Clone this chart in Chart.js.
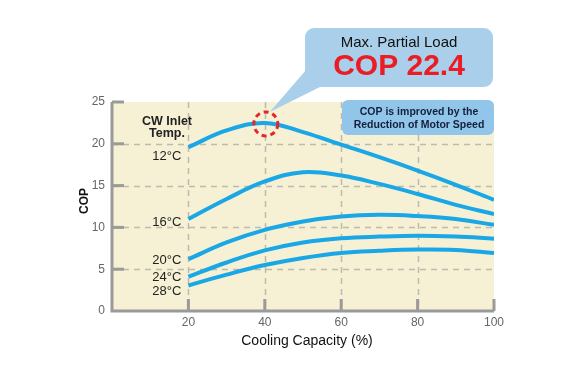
<!DOCTYPE html>
<html>
<head>
<meta charset="utf-8">
<script src="https://cdn.jsdelivr.net/npm/chart.js@4/dist/chart.umd.min.js"></script>
<style>
  html, body { margin: 0; padding: 0; background: #ffffff; }
  #wrap { width: 580px; height: 386px; position: relative; }
</style>
</head>
<body>
<div id="wrap"><canvas id="c" width="580" height="386"></canvas></div>
<script>
// ---- data ----
const capacity = [20, 30, 40, 50, 60, 70, 80, 90, 100];
const cop12 = [19.6, 21.6, 22.5, 21.4, 19.9, 18.4, 16.8, 15.1, 13.3];
const cop16 = [11.0, 13.4, 15.5, 16.6, 16.2, 15.2, 14.0, 12.7, 11.6];
const cop20 = [6.2, 8.2, 9.7, 10.7, 11.3, 11.5, 11.35, 11.0, 10.3];
const cop24 = [4.1, 5.8, 7.25, 8.2, 8.7, 8.9, 9.0, 8.9, 8.65];
const cop28 = [3.05, 4.35, 5.5, 6.35, 6.95, 7.2, 7.35, 7.3, 6.95];
const seriesLabels = ['12°C', '16°C', '20°C', '24°C', '28°C'];
const xTicks = [20, 40, 60, 80, 100];
const yTicks = [5, 10, 15, 20, 25];
const peakCapacity = 40;
const peakCOP = 22.5;

const FONT = '"Liberation Sans", Arial, sans-serif';
const LINE = '#1aa7e6';
const series = [cop12, cop16, cop20, cop24, cop28];

const mk = (vals, label) => ({
  label: label,
  data: capacity.map((c, i) => ({ x: c, y: vals[i] })),
  borderColor: LINE,
  borderWidth: 4,
  pointRadius: 0,
  fill: false,
  tension: 0.4
});

const decor = {
  id: 'decor',
  beforeDatasetsDraw(chart) {
    const { ctx, chartArea: a, scales: { x, y } } = chart;
    ctx.save();
    ctx.fillStyle = '#f6f1d4';
    ctx.fillRect(a.left, a.top, a.right - a.left, a.bottom - a.top);
    ctx.strokeStyle = '#bdbbb0';
    ctx.lineWidth = 1.5;
    ctx.setLineDash([6, 5]);
    yTicks.filter(v => v < 25).forEach(v => {
      const py = Math.round(y.getPixelForValue(v)) + 0.5;
      ctx.beginPath(); ctx.moveTo(a.left, py); ctx.lineTo(a.right, py); ctx.stroke();
    });
    xTicks.filter(v => v < 100).forEach(v => {
      const px = Math.round(x.getPixelForValue(v)) + 0.5;
      ctx.beginPath(); ctx.moveTo(px, a.top); ctx.lineTo(px, a.bottom); ctx.stroke();
    });
    ctx.restore();
  },
  afterDatasetsDraw(chart) {
    const { ctx, chartArea: a, scales: { x, y } } = chart;
    ctx.save();
    // axes
    ctx.strokeStyle = '#9a9a9a';
    ctx.lineWidth = 3;
    ctx.setLineDash([]);
    ctx.beginPath();
    ctx.moveTo(a.left, a.top);
    ctx.lineTo(a.left, a.bottom);
    ctx.lineTo(a.right, a.bottom);
    ctx.stroke();
    yTicks.forEach(v => {
      const py = y.getPixelForValue(v);
      ctx.beginPath(); ctx.moveTo(a.left, py); ctx.lineTo(a.left + 12, py); ctx.stroke();
    });
    xTicks.forEach(v => {
      const px = x.getPixelForValue(v);
      ctx.beginPath(); ctx.moveTo(px, a.bottom); ctx.lineTo(px, a.bottom - 12); ctx.stroke();
    });

    // series labels
    ctx.fillStyle = '#222';
    ctx.font = 'bold 12.5px ' + FONT;
    ctx.textAlign = 'center';
    ctx.textBaseline = 'middle';
    ctx.fillText('CW Inlet', 167, 122);
    ctx.fillText('Temp.', 167, 134);
    ctx.font = '13px ' + FONT;
    ctx.textAlign = 'right';
    const offs = [9, 3, 1, 1, 6];
    series.forEach((s, i) => {
      const py = y.getPixelForValue(s[0]) + offs[i];
      ctx.fillText(seriesLabels[i], x.getPixelForValue(capacity[0]) - 7, py);
    });

    // axis titles
    ctx.fillStyle = '#111';
    ctx.font = '14px ' + FONT;
    ctx.textAlign = 'center';
    ctx.fillText('Cooling Capacity (%)', 307, 341);
    ctx.save();
    ctx.translate(85, 201);
    ctx.rotate(-Math.PI / 2);
    ctx.font = 'bold 12px ' + FONT;
    ctx.fillText('COP', 0, 0);
    ctx.restore();

    // red dashed circle at peak
    const cx = x.getPixelForValue(peakCapacity), cy = y.getPixelForValue(peakCOP);
    ctx.strokeStyle = '#e3262b';
    ctx.lineWidth = 3;
    ctx.setLineDash([5, 4]);
    ctx.beginPath(); ctx.arc(cx + 1, cy + 1, 12, 0, Math.PI * 2); ctx.stroke();
    ctx.setLineDash([]);

    // callout
    const rr = (x0, y0, w, h, r) => {
      ctx.beginPath();
      ctx.moveTo(x0 + r, y0);
      ctx.arcTo(x0 + w, y0, x0 + w, y0 + h, r);
      ctx.arcTo(x0 + w, y0 + h, x0, y0 + h, r);
      ctx.arcTo(x0, y0 + h, x0, y0, r);
      ctx.arcTo(x0, y0, x0 + w, y0, r);
      ctx.closePath();
    };
    ctx.fillStyle = '#a9cfea';
    ctx.beginPath();
    ctx.moveTo(306, 70);
    ctx.lineTo(320, 87);
    ctx.lineTo(cx + 5, cy - 11);
    ctx.closePath();
    ctx.fill();
    rr(305, 28, 188, 59, 9);
    ctx.fill();
    ctx.fillStyle = '#111';
    ctx.font = '15px ' + FONT;
    ctx.textAlign = 'center';
    ctx.fillText('Max. Partial Load', 399, 43);
    ctx.fillStyle = '#ea1c24';
    ctx.font = 'bold 30px ' + FONT;
    ctx.fillText('COP ' + (22.4).toFixed(1), 399, 67);

    // second note
    ctx.fillStyle = '#91c5ea';
    rr(342, 100, 152, 35, 6);
    ctx.fill();
    ctx.fillStyle = '#13203a';
    ctx.font = 'bold 10.5px ' + FONT;
    ctx.fillText('COP is improved by the', 419, 112);
    ctx.fillText('Reduction of Motor Speed', 419, 125);
    ctx.restore();
  }
};

new Chart(document.getElementById('c'), {
  type: 'line',
  data: { datasets: series.map((s, i) => mk(s, seriesLabels[i])) },
  options: {
    responsive: false,
    animation: false,
    devicePixelRatio: 1,
    layout: { padding: { top: 102, right: 86, left: 0, bottom: 0 } },
    plugins: { legend: { display: false }, tooltip: { enabled: false } },
    scales: {
      x: {
        type: 'linear', min: 0, max: 100,
        grid: { display: false, drawTicks: false },
        border: { display: false },
        ticks: {
          stepSize: 20, padding: 4, color: '#666',
          font: { family: FONT, size: 12 },
          callback: v => (v === 0 ? '' : v)
        },
        afterFit: s => { s.height = 75; }
      },
      y: {
        min: 0, max: 25,
        grid: { display: false, drawTicks: false },
        border: { display: false },
        ticks: { stepSize: 5, padding: 7, color: '#666', font: { family: FONT, size: 12 } },
        afterFit: s => { s.width = 112; }
      }
    }
  },
  plugins: [decor]
});
</script>
</body>
</html>
